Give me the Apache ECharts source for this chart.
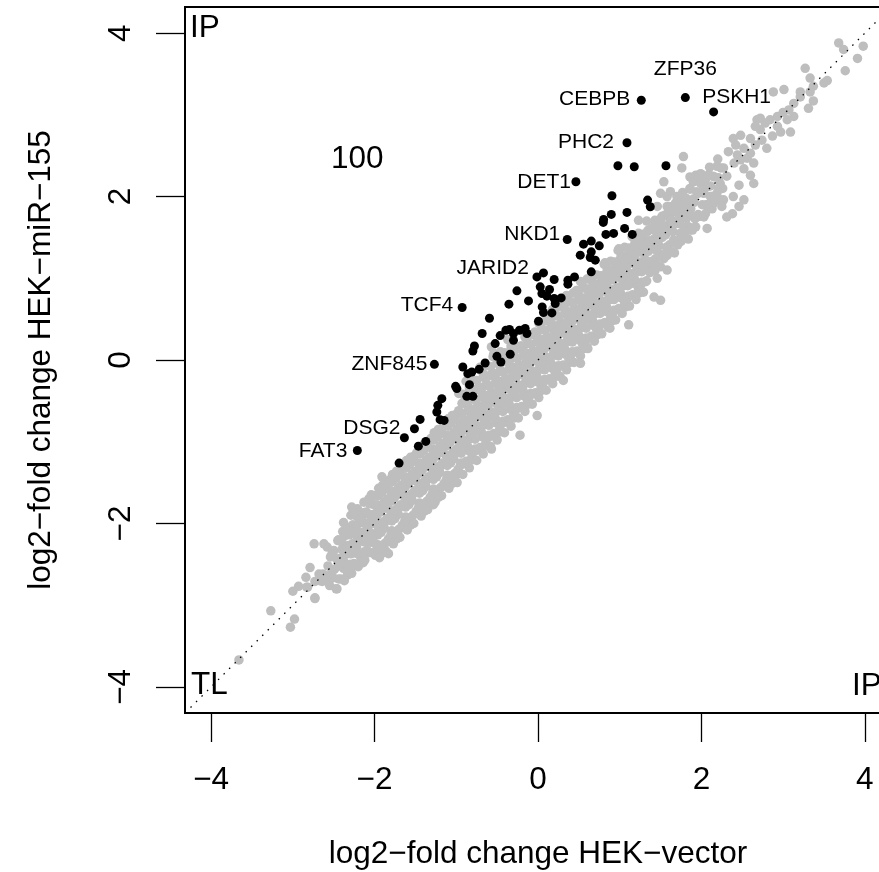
<!DOCTYPE html>
<html><head><meta charset="utf-8">
<script src="https://cdn.jsdelivr.net/npm/echarts@6/dist/echarts.min.js"></script>
<style>html,body{margin:0;padding:0;background:#fff;overflow:hidden}#c{width:900px;height:872px}</style>
</head><body><div id="c"></div>
<script>
// ---- data ----
const xTicks = [-4, -2, 0, 2, 4];
const yTicks = [-4, -2, 0, 2, 4];
const axisRange = [-4.32, 4.32];
const xTitle = 'log2\u2212fold change HEK\u2212vector';
const yTitle = 'log2\u2212fold change HEK\u2212miR\u2212155';
const cornerTexts = ['IP', 'TL', 'IP'];
const countText = '100';

const grayPoints = [
[-2.41,-2.68],[-2.38,-2.55],[-2.43,-2.43],[-2.40,-2.32],[-2.44,-2.20],[-2.39,-2.10],
[-2.33,-2.63],[-2.30,-2.50],[-2.35,-2.38],[-2.32,-2.27],[-2.36,-2.15],[-2.31,-2.05],
[-2.24,-2.50],[-2.21,-2.37],[-2.26,-2.25],[-2.23,-2.14],[-2.27,-2.02],[-2.22,-1.91],
[-2.16,-2.48],[-2.13,-2.35],[-2.18,-2.22],[-2.15,-2.11],[-2.19,-2.00],[-2.14,-1.87],
[-2.08,-2.36],[-2.05,-2.23],[-2.10,-2.11],[-2.07,-2.00],[-2.11,-1.88],[-2.06,-1.76],
[-1.99,-2.39],[-1.96,-2.26],[-2.01,-2.13],[-1.98,-2.01],[-2.02,-1.89],[-1.97,-1.77],[-2.00,-1.66],[-1.95,-1.57],
[-1.90,-2.36],[-1.87,-2.24],[-1.92,-2.11],[-1.89,-1.98],[-1.93,-1.86],[-1.88,-1.74],[-1.91,-1.62],[-1.86,-1.52],
[-1.82,-2.22],[-1.79,-2.09],[-1.84,-1.96],[-1.81,-1.84],[-1.85,-1.72],[-1.80,-1.60],[-1.83,-1.49],[-1.78,-1.40],
[-1.73,-2.19],[-1.70,-2.07],[-1.75,-1.94],[-1.72,-1.81],[-1.76,-1.69],[-1.71,-1.57],[-1.74,-1.45],[-1.69,-1.35],
[-1.65,-2.05],[-1.62,-1.92],[-1.67,-1.79],[-1.64,-1.67],[-1.68,-1.55],[-1.63,-1.43],[-1.66,-1.32],[-1.61,-1.23],
[-1.56,-2.02],[-1.53,-1.90],[-1.58,-1.77],[-1.55,-1.64],[-1.59,-1.52],[-1.54,-1.40],[-1.57,-1.28],[-1.52,-1.18],
[-1.48,-1.88],[-1.45,-1.75],[-1.50,-1.62],[-1.47,-1.50],[-1.51,-1.38],[-1.46,-1.26],[-1.49,-1.15],[-1.44,-1.06],
[-1.39,-1.85],[-1.36,-1.73],[-1.41,-1.60],[-1.38,-1.47],[-1.42,-1.35],[-1.37,-1.23],[-1.40,-1.11],[-1.35,-1.01],
[-1.31,-1.71],[-1.28,-1.58],[-1.33,-1.45],[-1.30,-1.33],[-1.34,-1.21],[-1.29,-1.09],[-1.32,-0.98],[-1.27,-0.89],
[-1.22,-1.68],[-1.19,-1.56],[-1.24,-1.43],[-1.21,-1.30],[-1.25,-1.18],[-1.20,-1.06],[-1.23,-0.94],[-1.18,-0.84],
[-1.14,-1.54],[-1.11,-1.41],[-1.16,-1.28],[-1.13,-1.16],[-1.17,-1.04],[-1.12,-0.92],[-1.15,-0.81],[-1.10,-0.72],
[-1.05,-1.51],[-1.02,-1.39],[-1.07,-1.26],[-1.04,-1.13],[-1.08,-1.01],[-1.03,-0.89],[-1.06,-0.77],[-1.01,-0.67],
[-0.97,-1.39],[-0.94,-1.26],[-0.99,-1.13],[-0.96,-1.01],[-1.00,-0.89],[-0.95,-0.77],[-0.98,-0.65],[-0.93,-0.53],[-0.97,-0.41],
[-0.88,-1.24],[-0.85,-1.11],[-0.90,-0.98],[-0.87,-0.86],[-0.91,-0.74],[-0.86,-0.62],[-0.89,-0.50],[-0.84,-0.38],[-0.88,-0.26],
[-0.80,-1.22],[-0.77,-1.09],[-0.82,-0.96],[-0.79,-0.84],[-0.83,-0.72],[-0.78,-0.60],[-0.81,-0.48],[-0.76,-0.36],[-0.80,-0.24],
[-0.71,-1.07],[-0.68,-0.94],[-0.73,-0.81],[-0.70,-0.69],[-0.74,-0.57],[-0.69,-0.45],[-0.72,-0.33],[-0.67,-0.21],[-0.71,-0.09],
[-0.63,-1.05],[-0.60,-0.92],[-0.65,-0.79],[-0.62,-0.67],[-0.66,-0.55],[-0.61,-0.43],[-0.64,-0.31],[-0.59,-0.19],[-0.63,-0.07],
[-0.54,-0.90],[-0.51,-0.77],[-0.56,-0.64],[-0.53,-0.52],[-0.57,-0.40],[-0.52,-0.28],[-0.55,-0.16],[-0.50,-0.04],[-0.54,0.08],
[-0.46,-0.88],[-0.43,-0.75],[-0.48,-0.62],[-0.45,-0.50],[-0.49,-0.38],[-0.44,-0.26],[-0.47,-0.14],[-0.42,-0.02],[-0.46,0.10],
[-0.37,-0.73],[-0.34,-0.60],[-0.39,-0.47],[-0.36,-0.35],[-0.40,-0.23],[-0.35,-0.11],[-0.38,0.01],[-0.33,0.13],[-0.37,0.25],
[-0.29,-0.71],[-0.26,-0.58],[-0.31,-0.45],[-0.28,-0.33],[-0.32,-0.21],[-0.27,-0.09],[-0.30,0.03],[-0.25,0.14],
[-0.20,-0.57],[-0.17,-0.44],[-0.22,-0.31],[-0.19,-0.18],[-0.23,-0.06],[-0.18,0.06],[-0.21,0.17],[-0.16,0.28],
[-0.12,-0.54],[-0.09,-0.41],[-0.14,-0.28],[-0.11,-0.16],[-0.15,-0.04],[-0.10,0.08],[-0.13,0.20],[-0.08,0.31],
[-0.03,-0.40],[0.00,-0.27],[-0.05,-0.14],[-0.02,-0.01],[-0.06,0.11],[-0.01,0.23],[-0.04,0.34],[0.01,0.45],
[0.05,-0.37],[0.08,-0.24],[0.03,-0.11],[0.06,0.01],[0.02,0.13],[0.07,0.25],[0.04,0.37],[0.09,0.48],
[0.14,-0.23],[0.17,-0.10],[0.12,0.03],[0.15,0.16],[0.11,0.28],[0.16,0.40],[0.13,0.51],[0.18,0.62],
[0.22,-0.20],[0.25,-0.07],[0.20,0.06],[0.23,0.18],[0.19,0.30],[0.24,0.42],[0.21,0.54],[0.26,0.65],
[0.31,-0.06],[0.34,0.07],[0.29,0.20],[0.32,0.33],[0.28,0.45],[0.33,0.57],[0.30,0.68],[0.35,0.79],
[0.39,-0.03],[0.42,0.10],[0.37,0.23],[0.40,0.35],[0.36,0.47],[0.41,0.59],[0.38,0.71],[0.43,0.82],
[0.48,0.11],[0.51,0.24],[0.46,0.37],[0.49,0.50],[0.45,0.62],[0.50,0.74],[0.47,0.85],[0.52,0.96],
[0.56,0.14],[0.59,0.27],[0.54,0.40],[0.57,0.52],[0.53,0.64],[0.58,0.76],[0.55,0.88],[0.60,0.99],
[0.65,0.29],[0.68,0.42],[0.63,0.55],[0.66,0.67],[0.62,0.79],[0.67,0.90],[0.64,1.00],
[0.73,0.31],[0.76,0.44],[0.71,0.57],[0.74,0.69],[0.70,0.81],[0.75,0.93],[0.72,1.04],
[0.82,0.46],[0.85,0.59],[0.80,0.72],[0.83,0.84],[0.79,0.96],[0.84,1.07],[0.81,1.17],
[0.90,0.48],[0.93,0.61],[0.88,0.74],[0.91,0.86],[0.87,0.98],[0.92,1.10],[0.89,1.21],
[0.99,0.63],[1.02,0.76],[0.97,0.89],[1.00,1.01],[0.96,1.13],[1.01,1.24],[0.98,1.34],
[1.07,0.65],[1.10,0.78],[1.05,0.91],[1.08,1.03],[1.04,1.15],[1.09,1.27],[1.06,1.38],
[1.16,0.80],[1.19,0.93],[1.14,1.06],[1.17,1.18],[1.13,1.30],[1.18,1.41],[1.15,1.51],
[1.24,0.82],[1.27,0.95],[1.22,1.08],[1.25,1.20],[1.21,1.32],[1.26,1.44],[1.23,1.55],
[1.33,0.97],[1.36,1.11],[1.31,1.23],[1.34,1.35],[1.30,1.47],[1.35,1.59],
[1.41,1.11],[1.44,1.24],[1.39,1.36],[1.42,1.48],[1.38,1.60],[1.43,1.71],
[1.50,1.14],[1.53,1.28],[1.48,1.40],[1.51,1.52],[1.47,1.64],[1.52,1.76],
[1.58,1.28],[1.61,1.41],[1.56,1.53],[1.59,1.65],[1.55,1.77],[1.60,1.88],
[1.67,1.31],[1.70,1.45],[1.65,1.57],[1.68,1.69],[1.64,1.81],[1.69,1.93],
[1.75,1.45],[1.78,1.58],[1.73,1.70],[1.76,1.82],[1.72,1.94],[1.77,2.05],
[1.84,1.48],[1.87,1.62],[1.82,1.74],[1.85,1.86],[1.81,1.98],[1.86,2.10],
[1.93,1.63],[1.96,1.78],[1.91,1.93],[1.94,2.06],[1.90,2.18],
[2.03,1.75],[2.06,1.90],[2.01,2.05],[2.04,2.17],[2.00,2.27],
[2.13,1.85],[2.16,1.99],[2.11,2.13],[2.14,2.25],[2.10,2.36],
[2.23,1.96],[2.26,2.10],[2.21,2.23],[2.24,2.35],[2.20,2.46],
[-2.55,-2.76],[-2.52,-2.64],[-2.57,-2.52],[-2.54,-2.41],[-2.58,-2.29],
[-2.47,-2.80],[-2.44,-2.68],[-2.49,-2.56],[-2.46,-2.44],[-2.50,-2.33],[-2.45,-2.21],
[-2.37,-2.70],[-2.34,-2.58],[-2.39,-2.46],[-2.36,-2.34],[-2.40,-2.23],[-2.35,-2.11],[-2.38,-1.99],
[-2.28,-2.61],[-2.25,-2.49],[-2.30,-2.37],[-2.27,-2.25],[-2.31,-2.14],[-2.26,-2.02],[-2.29,-1.90],
[-2.20,-2.53],[-2.17,-2.41],[-2.22,-2.29],[-2.19,-2.17],[-2.23,-2.06],[-2.18,-1.94],[-2.21,-1.82],
[-2.12,-2.45],[-2.09,-2.33],[-2.14,-2.21],[-2.11,-2.09],[-2.15,-1.98],[-2.10,-1.86],[-2.13,-1.74],
[-2.03,-2.36],[-2.00,-2.24],[-2.05,-2.12],[-2.02,-2.00],[-2.06,-1.89],[-2.01,-1.77],[-2.04,-1.65],
[-1.94,-2.42],[-1.91,-2.27],[-1.96,-2.14],[-1.93,-2.02],[-1.97,-1.90],[-1.92,-1.78],[-1.95,-1.66],[-1.90,-1.55],
[-1.86,-2.34],[-1.83,-2.19],[-1.88,-2.06],[-1.85,-1.94],[-1.89,-1.82],[-1.84,-1.70],[-1.87,-1.58],[-1.82,-1.47],
[-1.77,-2.25],[-1.74,-2.10],[-1.79,-1.97],[-1.76,-1.85],[-1.80,-1.73],[-1.75,-1.61],[-1.78,-1.49],[-1.73,-1.38],
[-1.69,-2.17],[-1.66,-2.02],[-1.71,-1.89],[-1.68,-1.77],[-1.72,-1.65],[-1.67,-1.53],[-1.70,-1.41],[-1.65,-1.30],
[-1.60,-2.08],[-1.57,-1.93],[-1.62,-1.80],[-1.59,-1.68],[-1.63,-1.56],[-1.58,-1.44],[-1.61,-1.32],[-1.56,-1.21],
[-1.52,-2.00],[-1.49,-1.85],[-1.54,-1.72],[-1.51,-1.60],[-1.55,-1.48],[-1.50,-1.36],[-1.53,-1.24],[-1.48,-1.13],
[-1.43,-1.91],[-1.40,-1.76],[-1.45,-1.63],[-1.42,-1.51],[-1.46,-1.39],[-1.41,-1.27],[-1.44,-1.15],[-1.39,-1.04],
[-1.35,-1.83],[-1.32,-1.68],[-1.37,-1.55],[-1.34,-1.43],[-1.38,-1.31],[-1.33,-1.19],[-1.36,-1.07],[-1.31,-0.96],
[-1.26,-1.74],[-1.23,-1.59],[-1.28,-1.46],[-1.25,-1.34],[-1.29,-1.22],[-1.24,-1.10],[-1.27,-0.98],[-1.22,-0.87],
[-1.18,-1.66],[-1.15,-1.51],[-1.20,-1.38],[-1.17,-1.26],[-1.21,-1.14],[-1.16,-1.02],[-1.19,-0.90],[-1.14,-0.79],
[-1.09,-1.57],[-1.06,-1.42],[-1.11,-1.29],[-1.08,-1.17],[-1.12,-1.05],[-1.07,-0.93],[-1.10,-0.81],[-1.05,-0.70],
[-1.01,-1.49],[-0.98,-1.34],[-1.03,-1.21],[-1.00,-1.09],[-1.04,-0.97],[-0.99,-0.85],[-1.02,-0.73],[-0.97,-0.62],
[-0.92,-1.40],[-0.89,-1.27],[-0.94,-1.14],[-0.91,-1.02],[-0.95,-0.90],[-0.90,-0.78],[-0.93,-0.66],[-0.88,-0.54],[-0.92,-0.42],
[-0.84,-1.32],[-0.81,-1.19],[-0.86,-1.06],[-0.83,-0.94],[-0.87,-0.82],[-0.82,-0.70],[-0.85,-0.58],[-0.80,-0.46],[-0.84,-0.34],
[-0.75,-1.23],[-0.72,-1.10],[-0.77,-0.97],[-0.74,-0.85],[-0.78,-0.73],[-0.73,-0.61],[-0.76,-0.49],[-0.71,-0.37],[-0.75,-0.25],
[-0.67,-1.15],[-0.64,-1.02],[-0.69,-0.89],[-0.66,-0.77],[-0.70,-0.65],[-0.65,-0.53],[-0.68,-0.41],[-0.63,-0.29],[-0.67,-0.17],
[-0.58,-1.06],[-0.55,-0.93],[-0.60,-0.80],[-0.57,-0.68],[-0.61,-0.56],[-0.56,-0.44],[-0.59,-0.32],[-0.54,-0.20],[-0.58,-0.08],
[-0.50,-0.98],[-0.47,-0.85],[-0.52,-0.72],[-0.49,-0.60],[-0.53,-0.48],[-0.48,-0.36],[-0.51,-0.24],[-0.46,-0.12],[-0.50,0.00],
[-0.41,-0.89],[-0.38,-0.76],[-0.43,-0.63],[-0.40,-0.51],[-0.44,-0.39],[-0.39,-0.27],[-0.42,-0.15],[-0.37,-0.03],[-0.41,0.09],
[-0.33,-0.81],[-0.30,-0.68],[-0.35,-0.55],[-0.32,-0.43],[-0.36,-0.31],[-0.31,-0.19],[-0.34,-0.07],[-0.29,0.05],[-0.33,0.17],
[-0.24,-0.71],[-0.21,-0.58],[-0.26,-0.46],[-0.23,-0.34],[-0.27,-0.22],[-0.22,-0.10],[-0.25,0.02],[-0.20,0.13],
[-0.16,-0.63],[-0.13,-0.50],[-0.18,-0.38],[-0.15,-0.26],[-0.19,-0.14],[-0.14,-0.02],[-0.17,0.10],[-0.12,0.21],
[-0.07,-0.54],[-0.04,-0.41],[-0.09,-0.29],[-0.06,-0.17],[-0.10,-0.05],[-0.05,0.07],[-0.08,0.19],[-0.03,0.30],
[0.01,-0.46],[0.04,-0.33],[-0.01,-0.21],[0.02,-0.09],[-0.02,0.03],[0.03,0.15],[0.00,0.27],[0.05,0.38],
[0.10,-0.37],[0.13,-0.24],[0.08,-0.12],[0.11,0.00],[0.07,0.12],[0.12,0.24],[0.09,0.36],[0.14,0.47],
[0.18,-0.29],[0.21,-0.16],[0.16,-0.04],[0.19,0.08],[0.15,0.20],[0.20,0.32],[0.17,0.44],[0.22,0.55],
[0.27,-0.20],[0.30,-0.07],[0.25,0.05],[0.28,0.17],[0.24,0.29],[0.29,0.41],[0.26,0.53],[0.31,0.64],
[0.35,-0.12],[0.38,0.01],[0.33,0.13],[0.36,0.25],[0.32,0.37],[0.37,0.49],[0.34,0.61],[0.39,0.72],
[0.44,-0.03],[0.47,0.10],[0.42,0.22],[0.45,0.34],[0.41,0.46],[0.46,0.58],[0.43,0.70],[0.48,0.81],
[0.52,0.05],[0.55,0.18],[0.50,0.30],[0.53,0.42],[0.49,0.54],[0.54,0.66],[0.51,0.78],[0.56,0.89],
[0.61,0.14],[0.64,0.27],[0.59,0.39],[0.62,0.51],[0.58,0.63],[0.63,0.75],[0.60,0.87],[0.65,0.98],
[0.69,0.23],[0.72,0.36],[0.67,0.48],[0.70,0.60],[0.66,0.72],[0.71,0.83],[0.68,0.94],
[0.78,0.32],[0.81,0.45],[0.76,0.57],[0.79,0.69],[0.75,0.81],[0.80,0.92],[0.77,1.03],
[0.86,0.40],[0.89,0.53],[0.84,0.65],[0.87,0.77],[0.83,0.89],[0.88,1.00],[0.85,1.11],
[0.95,0.49],[0.98,0.62],[0.93,0.74],[0.96,0.86],[0.92,0.98],[0.97,1.09],[0.94,1.20],
[1.03,0.57],[1.06,0.70],[1.01,0.82],[1.04,0.94],[1.00,1.06],[1.05,1.17],[1.02,1.28],
[1.12,0.66],[1.15,0.79],[1.10,0.91],[1.13,1.03],[1.09,1.15],[1.14,1.26],[1.11,1.37],
[1.20,0.74],[1.23,0.87],[1.18,0.99],[1.21,1.11],[1.17,1.23],[1.22,1.34],[1.19,1.45],
[1.29,0.83],[1.32,0.96],[1.27,1.08],[1.30,1.20],[1.26,1.32],[1.31,1.43],[1.28,1.54],
[1.37,1.07],[1.40,1.21],[1.35,1.33],[1.38,1.45],[1.34,1.57],
[1.46,1.16],[1.49,1.30],[1.44,1.42],[1.47,1.54],[1.43,1.66],
[1.54,1.24],[1.57,1.38],[1.52,1.50],[1.55,1.62],[1.51,1.74],
[1.63,1.33],[1.66,1.47],[1.61,1.59],[1.64,1.71],[1.60,1.83],
[1.71,1.41],[1.74,1.55],[1.69,1.67],[1.72,1.79],[1.68,1.91],
[1.80,1.50],[1.83,1.64],[1.78,1.76],[1.81,1.88],[1.77,2.00],
[1.89,1.59],[1.92,1.73],[1.87,1.85],[1.90,1.97],[1.86,2.09],
[1.98,1.76],[2.01,1.90],[1.96,2.04],[1.99,2.17],
[2.08,1.86],[2.11,2.00],[2.06,2.14],[2.09,2.27],
[2.18,1.96],[2.21,2.10],[2.16,2.24],[2.19,2.37],
[-2.14,-2.48],[-2.23,-2.36],[-2.12,-2.23],[-2.21,-2.11],[-2.13,-1.99],[-2.24,-1.87],
[-1.97,-2.31],[-2.06,-2.19],[-1.95,-2.06],[-2.04,-1.94],[-1.96,-1.82],[-2.07,-1.70],
[-1.80,-2.14],[-1.89,-2.02],[-1.78,-1.89],[-1.87,-1.77],[-1.79,-1.65],[-1.90,-1.53],
[-1.63,-1.97],[-1.72,-1.85],[-1.61,-1.72],[-1.70,-1.60],[-1.62,-1.48],[-1.73,-1.36],
[-1.46,-1.80],[-1.55,-1.68],[-1.44,-1.55],[-1.53,-1.43],[-1.45,-1.31],[-1.56,-1.19],
[-1.29,-1.63],[-1.38,-1.51],[-1.27,-1.38],[-1.36,-1.26],[-1.28,-1.14],[-1.39,-1.02],
[-1.12,-1.46],[-1.21,-1.34],[-1.10,-1.21],[-1.19,-1.09],[-1.11,-0.97],[-1.22,-0.85],
[-0.95,-1.29],[-1.04,-1.17],[-0.93,-1.04],[-1.02,-0.92],[-0.94,-0.80],[-1.05,-0.68],
[-0.78,-1.12],[-0.87,-1.00],[-0.76,-0.87],[-0.85,-0.75],[-0.77,-0.63],[-0.88,-0.51],
[-0.61,-0.95],[-0.70,-0.83],[-0.59,-0.70],[-0.68,-0.58],[-0.60,-0.46],[-0.71,-0.34],
[-0.44,-0.78],[-0.53,-0.66],[-0.42,-0.53],[-0.51,-0.41],[-0.43,-0.29],[-0.54,-0.17],
[-0.27,-0.61],[-0.36,-0.49],[-0.25,-0.36],[-0.34,-0.24],[-0.26,-0.12],[-0.37,0.00],
[-0.10,-0.44],[-0.19,-0.32],[-0.08,-0.19],[-0.17,-0.07],[-0.09,0.05],[-0.20,0.17],
[0.07,-0.27],[-0.02,-0.15],[0.09,-0.02],[0.00,0.10],[0.08,0.22],[-0.03,0.34],
[0.24,-0.10],[0.15,0.02],[0.26,0.15],[0.17,0.27],[0.25,0.39],[0.14,0.51],
[0.41,0.07],[0.32,0.19],[0.43,0.32],[0.34,0.44],[0.42,0.56],[0.31,0.68],
[0.58,0.24],[0.49,0.36],[0.60,0.49],[0.51,0.61],[0.59,0.73],[0.48,0.85],
[0.75,0.41],[0.66,0.53],[0.77,0.66],[0.68,0.78],[0.76,0.90],[0.65,1.02],
[0.92,0.58],[0.83,0.70],[0.94,0.83],[0.85,0.95],[0.93,1.07],[0.82,1.19],
[1.09,0.75],[1.00,0.87],[1.11,1.00],[1.02,1.12],[1.10,1.24],[0.99,1.36],
[1.26,0.92],[1.17,1.04],[1.28,1.17],[1.19,1.29],[1.27,1.41],[1.16,1.53],
[1.43,1.09],[1.34,1.21],[1.45,1.34],[1.36,1.46],[1.44,1.58],[1.33,1.70],
[3.68,3.88],[3.74,3.80],[3.98,3.84],[3.91,3.69],[3.76,3.54],[3.27,3.57],[3.33,3.45],[3.54,3.42],[3.50,3.39],[3.37,3.35],
[3.33,3.28],[3.37,3.17],[3.31,3.08],[3.21,3.28],[3.21,3.22],[3.13,3.14],[3.01,3.31],[2.88,3.28],[3.07,3.06],[3.00,3.03],
[2.93,2.98],[3.13,2.98],[3.05,2.94],[2.84,2.94],[2.72,2.96],[2.78,2.90],[2.93,2.86],[3.09,2.79],[2.97,2.79],[2.87,2.74],
[2.68,2.94],[2.66,2.86],[2.72,2.82],[2.60,2.71],[2.74,2.69],[2.66,2.63],[2.80,2.59],[2.48,2.75],[2.39,2.71],[2.42,2.63],
[2.52,2.59],[2.60,2.53],[2.56,2.47],[2.44,2.51],[2.33,2.55],[2.48,2.45],[2.40,2.41],[2.64,2.41],[2.52,2.34],[2.60,2.26],
[2.64,2.16],[2.46,1.88],[2.27,2.35],[2.31,2.25],[2.23,2.16],[2.19,2.04],[1.78,2.49],[1.76,2.35],[1.54,2.18],[1.50,2.04],
[1.86,2.24],[1.93,2.26],[1.99,2.28],[2.07,2.24],[1.99,2.16],[2.07,2.12],[2.03,2.04],[2.13,2.00],[2.15,1.92],[2.07,1.90],
[2.27,1.96],[2.38,1.79],[2.05,1.79],[2.07,1.61],[1.95,1.75],[1.82,1.96],[1.70,2.00],[1.62,2.06],[1.74,1.88],[1.58,1.88],
[1.62,1.71],[1.74,1.67],[1.86,1.59],[1.50,1.71],[1.46,1.59],
[2.46,2.14],[2.52,1.96],[2.39,2.00],[2.25,1.88],[2.31,1.75],[1.86,1.79],[1.58,2.00],
[-3.66,-3.67],[-3.27,-3.07],[-3.03,-3.27],[-2.98,-3.17],[-3.00,-2.83],[-2.93,-2.77],[-2.84,-2.66],[-2.82,-2.78],[-2.73,-2.91],[-2.73,-2.71],
[-2.79,-2.54],[-2.68,-2.62],[-2.64,-2.71],[-2.59,-2.70],[-2.52,-2.67],[-2.46,-2.80],[-2.63,-2.62],[-2.52,-2.58],[-2.44,-2.52],[-2.34,-2.52],
[-2.26,-2.52],[-2.30,-2.56],[-2.38,-2.46],
[-1.91,-1.43],[-2.28,-1.80],[-2.74,-2.25],[-2.62,-2.25],[-2.52,-2.37],[-2.38,-2.48],[-2.28,-2.37],[-1.83,-2.37],[-1.28,-1.77],[-0.99,-1.50],
[-2.18,-1.96],[-2.08,-2.05],[-2.12,-2.17],[-0.22,-0.92],[-0.57,-1.09],[-2.73,-2.92],[-2.83,-2.78],[-2.51,-2.37],[-2.42,-2.46],[-2.34,-2.29],
[-2.67,-2.70],[-2.59,-2.64],[-2.30,-2.09],[-1.97,-1.88],
[1.11,0.43],[1.42,0.77],[1.50,0.73],[1.58,1.10],[1.46,1.00],[0.52,-0.04],[0.31,-0.25],[0.03,-0.37],[-0.01,-0.68],[0.88,0.39],
[0.60,0.16],[-0.57,0.16],[-0.55,0.04],[1.23,1.71],[1.46,1.88],[1.66,1.86]
];

const blackPoints = [
[0.905,2.010],[0.897,1.782],[0.803,1.720],[0.799,1.684],[1.089,1.806],[1.060,1.610],[0.831,1.537],[0.925,1.549],
[0.557,1.418],[0.652,1.455],[0.750,1.397],[0.517,1.283],[0.652,1.324],[0.639,1.255],[0.701,1.222],[0.652,1.079],
[0.366,0.977],[0.447,1.017],[0.366,0.928],[0.067,1.066],[0.198,0.985],[0.027,0.895],[0.048,0.814],[0.141,0.863],
[0.109,0.781],[0.198,0.752],[0.284,0.760],[0.211,0.691],[0.051,0.650],[0.067,0.581],[0.170,0.576],[0.006,0.474],
[-0.258,0.846],[-0.356,0.683],[-0.116,0.723],[-0.594,0.511],[-0.683,0.324],[-0.778,0.172],[-0.797,0.110],[-0.463,0.299],
[-0.393,0.364],[-0.349,0.373],[-0.300,0.324],[-0.300,0.241],[-0.227,0.364],[-0.157,0.385],[-0.136,0.324],[-0.524,0.201],
[-0.503,0.045],[-0.454,-0.025],[-0.340,0.070],[-0.647,-0.037],[-0.810,-0.147],[-0.859,-0.167],[-0.720,-0.114],[-0.920,-0.086],
[-0.993,-0.350],[-1.008,-0.322],[-0.839,-0.302],[-0.871,-0.445],[-0.797,-0.445],[-1.177,-0.473],[-1.226,-0.555],[-1.238,-0.637],
[-1.198,-0.730],[-1.149,-0.739],[-1.443,-0.727],[-1.512,-0.841],[-1.373,-0.996],[-1.464,-1.054],[-1.700,-1.262],
[1.341,1.957],[1.374,1.875],[1.154,1.537],[0.978,2.377],[1.178,2.365],[1.566,2.377]
];

const geneNames = ['CEBPB','ZFP36','PSKH1','PHC2','DET1','NKD1','JARID2','TCF4','ZNF845','DSG2','FAT3'];
const genePoints = [[1.264,3.179],[1.803,3.211],[2.149,3.036],[1.089,2.659],[0.464,2.181],[0.358,1.475],
  [-0.013,1.017],[-0.928,0.642],[-1.268,-0.053],[-1.635,-0.951],[-2.211,-1.107]];

// ---- styles ----
const FONT = '"Liberation Sans", Arial, Helvetica, sans-serif';
const BIG = 31.5;
const labelStyle = {
  CEBPB: {align:'right', offset:[-11,-1]},
  ZFP36: {align:'center', offset:[0,-28]},
  PSKH1: {align:'center', offset:[23,-15]},
  PHC2: {align:'right', offset:[-13,-1]},
  DET1: {align:'right', offset:[-5,0]},
  NKD1: {align:'right', offset:[-7,-5]},
  JARID2: {align:'right', offset:[-8,-9]},
  TCF4: {align:'right', offset:[-9,-2]},
  ZNF845: {align:'right', offset:[-7,0]},
  DSG2: {align:'right', offset:[-4,-10]},
  FAT3: {align:'right', offset:[-10,1]}
};
const fmt = v => String(v).replace('-', '\u2212');

const chart = echarts.init(document.getElementById('c'), null, {renderer:'canvas'});
const gene = geneNames.map((n, i) => ({
  name: n, value: genePoints[i],
  label: {show:true, formatter: n, position:'inside', verticalAlign:'middle',
          align: labelStyle[n].align, offset: labelStyle[n].offset,
          fontSize: 21, fontFamily: FONT, color:'#000'}
}));

chart.setOption({
  animation: false,
  backgroundColor: '#fff',
  grid: {left:185, top:7, width:706, height:706, outerBoundsMode:'none', containLabel:false,
         show:true, borderColor:'#000', borderWidth:2, backgroundColor:'transparent'},
  xAxis: {
    type:'value', min:axisRange[0], max:axisRange[1],
    axisLine:{show:false, onZero:false}, splitLine:{show:false},
    axisTick:{show:true, customValues:xTicks, length:29, inside:false, lineStyle:{color:'#000', width:1.3}},
    axisLabel:{customValues:xTicks, formatter:fmt, fontSize:BIG, fontFamily:FONT, color:'#000', margin:51},
    name:xTitle, nameLocation:'middle', nameGap:125,
    nameTextStyle:{fontSize:BIG, fontFamily:FONT, color:'#000'}
  },
  yAxis: {
    type:'value', min:axisRange[0], max:axisRange[1],
    axisLine:{show:false, onZero:false}, splitLine:{show:false},
    axisTick:{show:true, customValues:yTicks, length:29, inside:false, lineStyle:{color:'#000', width:1.3}},
    axisLabel:{customValues:yTicks, formatter:fmt, fontSize:BIG, fontFamily:FONT, color:'#000', margin:48, rotate:90},
    name:yTitle, nameLocation:'middle', nameGap:128,
    nameTextStyle:{fontSize:BIG, fontFamily:FONT, color:'#000'}
  },
  series: [
    {type:'scatter', data:grayPoints, symbolSize:9.5, itemStyle:{color:'#bebebe', opacity:1}, silent:true, z:2},
    {type:'scatter', data:blackPoints, symbolSize:9, itemStyle:{color:'#000', opacity:1}, silent:true, z:3},
    {type:'scatter', data:gene, symbolSize:9, itemStyle:{color:'#000', opacity:1}, silent:true, z:3},
    {type:'line', data:[[axisRange[0],axisRange[0]],[axisRange[1],axisRange[1]]], showSymbol:false, clip:true,
     lineStyle:{color:'#000', width:1.3, type:[1.5,6.3]}, silent:true, z:4}
  ],
  graphic: [
    {type:'text', left:190, top:12, style:{text:cornerTexts[0], font:BIG+'px '+FONT, fill:'#000'}},
    {type:'text', left:191, top:669, style:{text:cornerTexts[1], font:BIG+'px '+FONT, fill:'#000'}},
    {type:'text', left:852, top:670, style:{text:cornerTexts[2], font:BIG+'px '+FONT, fill:'#000'}},
    {type:'text', left:331, top:143, style:{text:countText, font:BIG+'px '+FONT, fill:'#000'}}
  ]
});
</script>
</body></html>
